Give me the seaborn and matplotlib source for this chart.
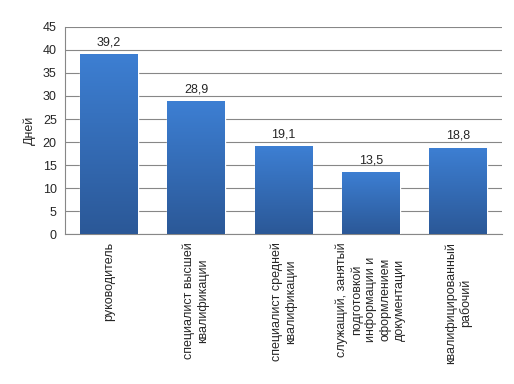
import numpy as np
import pandas as pd
import matplotlib
matplotlib.use("Agg")
import matplotlib.pyplot as plt
from matplotlib.colors import LinearSegmentedColormap
import seaborn as sns

categories = [
    "руководитель",
    "специалист высшей\nквалификации",
    "специалист средней\nквалификации",
    "служащий, занятый\nподготовкой\nинформации и\nоформлением\nдокументации",
    "квалифицированный\nрабочий",
]
days = [39.2, 28.9, 19.1, 13.5, 18.8]
y_ticks = list(range(0, 50, 5))

df = pd.DataFrame({"category": categories, "days": days})

sns.set_style("white")
plt.rcParams["font.family"] = ["Liberation Sans", "DejaVu Sans"]

fig = plt.figure(figsize=(5.14, 3.84), dpi=100)
ax = fig.add_axes([0.1265, 0.3906, 0.85, 0.5391])

sns.barplot(data=df, x="category", y="days", color="#3a78c8", width=0.66,
            ax=ax, zorder=3, saturation=1)

# Excel-like vertical gradient on each bar
cmap = LinearSegmentedColormap.from_list("excel_blue", ["#2b5897", "#3d7fd3"])
grad = np.linspace(0, 1, 256).reshape(-1, 1)
for bar in ax.patches:
    x0, y0 = bar.get_x(), bar.get_y()
    w, h = bar.get_width(), bar.get_height()
    img = ax.imshow(grad, extent=(x0, x0 + w, y0, y0 + h), origin="lower",
                    cmap=cmap, aspect="auto", zorder=4)
    img.set_clip_path(bar)

ax.bar_label(ax.containers[0], labels=[f"{v:.1f}".replace(".", ",") for v in days],
             padding=4, fontsize=9, zorder=5)

ax.set_xlim(-0.5, len(categories) - 0.5)
ax.set_ylim(0, 45)
ax.set_yticks(y_ticks)
ax.yaxis.grid(True, color="#878787", linewidth=0.8)
ax.set_axisbelow(True)

ax.set_xticks(range(len(categories)))
ax.set_xticklabels(categories, rotation=90, ha="center", va="top",
                   multialignment="center", fontsize=9, linespacing=1.25)
ax.set_xticks(np.arange(-0.5, len(categories), 1), minor=True)
ax.tick_params(axis="x", which="major", length=0, pad=6)
ax.tick_params(axis="x", which="minor", length=4, color="#878787", width=0.8)
ax.tick_params(axis="y", length=4, color="#878787", width=0.8, labelsize=9, pad=2)

ax.set_xlabel("")
ax.set_ylabel("Дней", fontsize=9, labelpad=5)

for side in ["top", "right"]:
    ax.spines[side].set_visible(False)
for side in ["left", "bottom"]:
    ax.spines[side].set_color("#878787")
    ax.spines[side].set_linewidth(0.8)

fig.savefig("out.png", dpi=100)
